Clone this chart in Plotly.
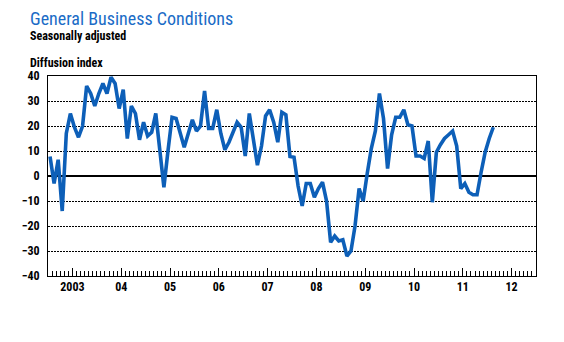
import plotly.graph_objects as go

year_labels = ["2003", "04", "05", "06", "07", "08", "09", "10", "11", "12"]
# monthly values Jan 2003 .. Feb 2012
values = [
    7.8, -3, 6.5, -14, 17, 25, 19.5, 15.5, 20, 36, 33, 28,
    33, 37, 33, 39.5, 37, 27, 34.5, 15, 28, 25, 14.5, 21.5,
    16, 17.5, 25, 10, -4.5, 10, 23.5, 23, 17, 11.5, 17, 22.5,
    18, 20, 34, 19, 19, 26.5, 17, 10.5, 13.5, 17.5, 21.5, 19.5,
    8, 25, 14, 4.3, 12, 24, 26.5, 21.5, 13.5, 25.5, 24.5, 7.8,
    7.5, -4, -12, -3, -3, -8.5, -5, -2.5, -10, -26.5, -24, -26,
    -25.5, -32, -30, -20, -5, -10, 1, 11, 18, 33, 23, 3,
    16.5, 23.5, 23.5, 26.5, 20.5, 20, 8, 8, 7, 14, -10.5, 9.5,
    12.5, 15, 16.5, 18, 12, -5, -3, -6.5, -7.5, -7.5, 1.5, 9.5,
    15, 19.5,
]
months = [m + 0.5 for m in range(len(values))]
n_months = 12 * len(year_labels)

NARROW = "Liberation Sans Narrow, Arial Narrow, Roboto Condensed, sans-serif"
LINE_BLUE = "#0D5FB8"
TITLE_BLUE = "#1A6BC6"
GRID_DASH = "2px,1px"

fig = go.Figure()
fig.add_trace(go.Scatter(
    x=months, y=values, mode="lines",
    line=dict(color=LINE_BLUE, width=3.6),
    hoverinfo="skip", showlegend=False,
))

quarter_vals = [q for q in range(3, n_months, 3) if q % 12 != 0]
quarter_text = [year_labels[q // 12] if q % 12 == 6 else "" for q in quarter_vals]

fig.update_layout(
    width=564, height=342,
    margin=dict(l=48, r=28, t=76, b=66),
    paper_bgcolor="white", plot_bgcolor="white",
    xaxis=dict(
        range=[0, n_months], tickmode="array",
        tickvals=quarter_vals, ticktext=quarter_text,
        ticks="inside", ticklen=8, tickcolor="black", tickwidth=1,
        showgrid=False, zeroline=False,
        showline=True, linecolor="black", linewidth=1, mirror=True,
        tickfont=dict(family=NARROW, size=12, color="black", weight="bold"),
        minor=dict(tickmode="array", tickvals=list(range(1, n_months)),
                   ticks="inside", ticklen=5, tickcolor="black", showgrid=False),
        fixedrange=True,
    ),
    xaxis2=dict(
        range=[0, n_months], overlaying="x", anchor="y", side="bottom",
        tickmode="array", tickvals=list(range(12, n_months, 12)),
        showgrid=True, gridcolor="black", gridwidth=1, griddash=GRID_DASH,
        showticklabels=False, ticks="", zeroline=False, showline=False,
    ),
    yaxis=dict(
        range=[-40, 40], tickmode="linear", tick0=-40, dtick=10,
        showgrid=True, gridcolor="black", gridwidth=1, griddash=GRID_DASH,
        zeroline=True, zerolinecolor="black", zerolinewidth=2,
        showline=True, linecolor="black", linewidth=1, mirror=True,
        ticks="", ticklabelstandoff=5,
        tickfont=dict(family=NARROW, size=12, color="black", weight="bold"),
        fixedrange=True,
    ),
    annotations=[
        dict(text="General Business Conditions", xref="paper", yref="paper",
             x=-0.041, y=(276 - 6) / 200, xanchor="left", yanchor="top",
             showarrow=False, font=dict(family=NARROW, size=18, color=TITLE_BLUE)),
        dict(text="Seasonally adjusted", xref="paper", yref="paper",
             x=-0.041, y=(276 - 27) / 200, xanchor="left", yanchor="top",
             showarrow=False, font=dict(family=NARROW, size=12, color="black", weight="bold")),
        dict(text="Diffusion index", xref="paper", yref="paper",
             x=-0.041, y=(276 - 54) / 200, xanchor="left", yanchor="top",
             showarrow=False, font=dict(family=NARROW, size=12, color="black", weight="bold")),
    ],
)

fig.write_html("out.html")
